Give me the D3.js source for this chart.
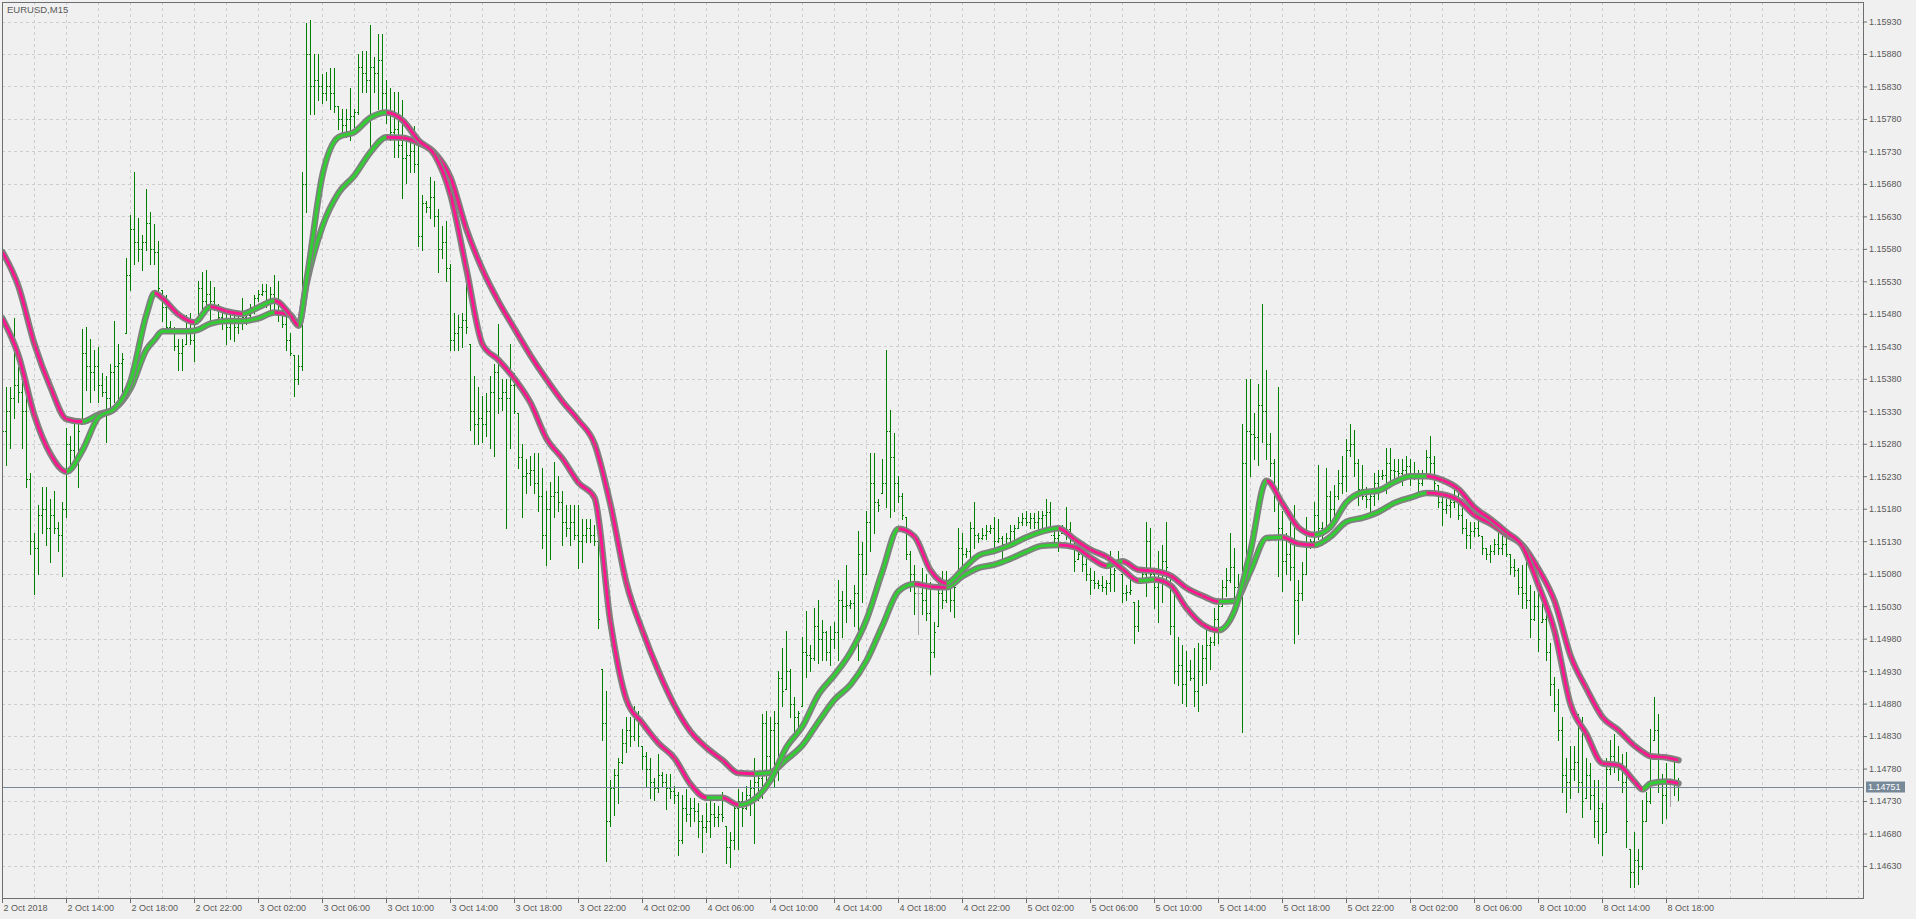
<!DOCTYPE html>
<html><head><meta charset="utf-8">
<script src="https://cdn.jsdelivr.net/npm/d3@7"></script>
<style>
html,body{margin:0;padding:0;background:#f0f0f0;overflow:hidden}
svg{display:block}
</style></head><body>
<svg id="c" width="1916" height="919"></svg>
<script>
// ---------- DATA (prices as points above 1.14000, i.e. 1389 = 1.15389) ----------
const BASE = 1.14, PT = 0.00001;
const symbolLabel = "EURUSD,M15";
const lastPrice = 1.14751;

const high = [
1389,1367,1367,1473,1398,1394,1380,1235,1142,1186,
1213,1213,1195,1208,1160,1190,1305,1292,1310,1319,
1456,1460,1442,1425,1429,1389,1385,1403,1469,1433,
1420,1566,1632,1698,1628,1601,1672,1637,1619,1592,
1517,1509,1469,1460,1442,1442,1478,1482,1469,1531,
1544,1548,1531,1522,1495,1486,1482,1486,1482,1478,
1504,1482,1495,1509,1517,1526,1526,1522,1540,1531,
1486,1478,1451,1416,1416,1698,1928,1933,1880,1880,
1849,1853,1858,1858,1800,1796,1796,1827,1796,1880,
1884,1884,1924,1875,1911,1911,1840,1827,1822,1822,
1809,1752,1747,1769,1738,1663,1654,1690,1685,1641,
1615,1623,1557,1482,1478,1482,1540,1433,1385,1367,
1354,1358,1385,1403,1464,1380,1380,1433,1389,1327,
1279,1257,1261,1266,1266,1243,1208,1221,1252,1230,
1208,1186,1186,1186,1186,1164,1164,1164,1155,1160,
934,899,762,780,797,841,859,859,877,868,
815,806,797,766,802,775,771,771,753,744,
740,749,735,735,727,709,727,731,727,722,
744,691,682,727,749,744,753,762,797,771,
864,868,859,868,930,965,992,934,890,868,
983,1023,970,1027,1040,1009,992,1000,1005,1071,
1053,1093,1040,1062,1146,1129,1177,1266,1266,1195,
1257,1425,1332,1297,1230,1204,1168,1115,1093,1067,
1089,1080,1067,1005,1076,1084,1084,1062,1076,1151,
1142,1120,1160,1190,1142,1151,1155,1155,1168,1164,
1138,1142,1155,1155,1168,1173,1177,1173,1173,1177,
1177,1195,1190,1146,1146,1155,1182,1160,1133,1133,
1120,1102,1089,1084,1071,1076,1071,1115,1089,1115,
1080,1062,1071,1036,1040,1089,1160,1151,1089,1115,
1124,1160,1080,1053,983,970,961,947,965,974,
970,1000,983,1027,1036,1071,1089,1142,1120,1080,
1310,1380,1380,1327,1372,1495,1394,1296,1257,1367,
1177,1142,1173,1186,1071,1098,1168,1133,1190,1248,
1160,1243,1208,1217,1239,1261,1288,1310,1301,1257,
1248,1213,1208,1235,1239,1239,1274,1274,1257,1257,
1257,1261,1257,1252,1239,1239,1270,1292,1261,1217,
1204,1195,1195,1213,1204,1195,1164,1160,1160,1164,
1138,1120,1124,1133,1142,1138,1138,1111,1102,1089,
1093,1102,1062,1053,1053,1036,1018,974,921,903,
859,797,815,815,864,859,797,788,762,762,
727,797,824,833,815,802,806,656,682,656,
731,744,841,890,864,771,788,766,797,766];

const low = [
1266,1248,1274,1319,1345,1274,1213,1111,1049,1080,
1142,1124,1098,1142,1115,1076,1168,1248,1248,1213,
1310,1363,1345,1363,1345,1354,1283,1327,1345,1345,
1345,1451,1517,1557,1562,1548,1579,1557,1557,1513,
1469,1456,1451,1425,1394,1394,1433,1433,1407,1469,
1486,1495,1469,1486,1469,1456,1433,1442,1438,1451,
1456,1464,1469,1482,1500,1509,1491,1486,1482,1469,
1460,1425,1416,1354,1372,1394,1637,1787,1787,1809,
1805,1809,1796,1791,1765,1752,1752,1747,1760,1787,
1822,1822,1729,1822,1796,1787,1774,1747,1721,1721,
1659,1681,1698,1698,1584,1579,1637,1628,1615,1544,
1566,1531,1425,1425,1425,1429,1451,1301,1279,1279,
1283,1292,1274,1261,1327,1332,1151,1274,1327,1243,
1168,1204,1217,1204,1177,1120,1093,1102,1168,1177,
1124,1138,1124,1133,1089,1098,1129,1129,1124,996,
824,638,691,709,727,788,806,815,824,815,
780,753,735,731,744,753,718,735,727,647,
665,700,691,700,674,651,682,674,691,691,
700,634,629,656,656,691,718,709,665,731,
735,753,775,753,762,877,903,859,833,841,
877,921,930,947,943,947,947,939,965,947,
983,1005,1027,1000,947,1036,1080,1115,1142,1177,
1204,1182,1168,1177,1190,1164,1102,1053,1018,987,
1018,1009,925,952,1000,1027,1036,1023,1014,1071,
1089,1106,1106,1120,1129,1133,1133,1142,1120,1129,
1102,1124,1129,1133,1151,1155,1155,1151,1151,1146,
1142,1146,1146,1129,1115,1142,1133,1129,1084,1102,
1084,1071,1049,1058,1058,1053,1049,1053,1053,1089,
1036,1040,1049,974,992,1071,1045,1071,1027,1005,
1036,1071,987,912,908,881,877,916,877,868,
908,912,934,970,974,1031,1045,1067,1040,1045,
837,1080,1230,1257,1248,1283,1257,1230,1177,1076,
1053,1080,1071,974,987,1040,1080,1120,1124,1133,
1124,1151,1155,1168,1195,1204,1208,1261,1230,1186,
1195,1182,1177,1186,1195,1226,1204,1213,1221,1221,
1217,1226,1217,1226,1199,1217,1230,1230,1208,1182,
1155,1173,1168,1182,1164,1142,1120,1120,1138,1138,
1111,1102,1098,1111,1111,1111,1107,1080,1076,1049,
1027,1027,983,1009,961,1005,947,894,868,824,
744,713,735,762,744,705,735,718,674,665,
647,682,771,775,762,744,660,598,598,603,
625,700,727,824,744,696,704,722,740,731];

const close = [
1300,1330,1350,1370,1360,1330,1225,1130,1120,1170,
1180,1150,1170,1150,1140,1180,1280,1270,1260,1300,
1420,1400,1390,1400,1370,1360,1350,1390,1400,1405,
1410,1540,1610,1590,1580,1590,1620,1580,1575,1520,
1490,1460,1455,1430,1420,1430,1450,1440,1460,1520,
1500,1510,1500,1490,1475,1470,1460,1470,1460,1470,
1475,1478,1490,1505,1510,1515,1500,1510,1500,1480,
1465,1440,1420,1380,1400,1680,1880,1830,1840,1830,
1820,1830,1820,1800,1780,1770,1780,1785,1790,1860,
1850,1840,1860,1850,1870,1820,1790,1760,1765,1740,
1720,1725,1730,1710,1600,1650,1645,1660,1630,1580,
1590,1550,1440,1450,1460,1470,1460,1330,1310,1320,
1310,1330,1360,1390,1350,1360,1350,1370,1330,1260,
1230,1235,1240,1220,1200,1140,1180,1200,1205,1190,
1160,1150,1160,1140,1130,1140,1150,1140,1130,1010,
850,700,750,770,790,820,840,830,860,830,
800,780,760,750,770,760,750,745,740,670,
720,710,720,715,700,690,700,710,705,710,
705,660,670,720,730,720,740,750,760,765,
850,800,840,850,920,900,930,880,860,865,
960,955,950,1000,980,990,960,980,990,1040,
1030,1032,1035,1050,1110,1080,1160,1220,1190,1185,
1220,1300,1260,1220,1200,1170,1110,1080,1050,1050,
1040,1020,960,990,1050,1040,1060,1040,1060,1120,
1110,1115,1150,1140,1135,1140,1145,1150,1130,1135,
1125,1135,1145,1150,1160,1165,1160,1165,1160,1165,
1170,1175,1140,1135,1140,1150,1148,1135,1100,1110,
1095,1080,1070,1065,1062,1060,1065,1080,1085,1095,
1050,1052,1055,1000,1030,1080,1130,1080,1060,1080,
1100,1090,1000,930,940,910,930,920,900,930,
950,970,975,1010,1030,1060,1070,1090,1060,1058,
1250,1300,1295,1290,1340,1330,1280,1250,1200,1150,
1100,1110,1090,1040,1050,1080,1125,1130,1170,1150,
1140,1200,1180,1200,1220,1230,1270,1280,1250,1210,
1200,1195,1200,1220,1230,1232,1250,1240,1238,1235,
1240,1245,1230,1235,1220,1230,1260,1250,1220,1190,
1180,1185,1190,1192,1170,1150,1140,1145,1150,1140,
1120,1110,1115,1125,1120,1125,1110,1090,1085,1060,
1050,1040,1010,1030,980,1010,960,910,880,840,
770,760,780,790,760,730,770,740,700,720,
680,780,800,790,780,760,700,620,640,630,
700,730,800,840,760,740,760,760,755,751];
const firstOpen = 1320;

// moving averages (mostly every 4 bars, a few extra turning points)
const maIndex = [0,4,8,12,16,20,24,28,32,36,38,40,44,48,52,56,60,64,68,72,74,76,80,84,88,92,96,100,
104,108,112,116,120,124,128,132,136,140,144,148,152,156,160,164,168,172,176,180,184,188,192,196,200,
204,208,212,216,220,224,228,232,236,240,244,248,252,256,260,264,268,272,276,280,284,288,292,296,300,
304,308,312,316,320,324,328,332,336,340,344,348,352,356,360,364,368,372,376,380,384,388,392,396,400,
404,408,410,412,416,419];
const fastMA = [1473,1416,1323,1264,1237,1270,1321,1334,1376,1479,1512,
1504,1479,1467,1491,1484,1480,1490,1500,1478,1462,1531,
1694,1752,1760,1782,1790,1778,1747,1725,1663,1548,
1433,1409,1380,1343,1288,1257,1220,1197,1005,886,
850,819,796,756,735,735,724,733,762,813,
845,894,924,959,1009,1084,1149,1137,1085,1065,
1086,1108,1115,1124,1136,1145,1150,1133,1117,1106,
1087,1069,1071,1062,1027,1002,993,1023,1115,1223,
1188,1151,1140,1152,1190,1205,1208,1221,1230,1230,
1224,1210,1182,1164,1144,1122,1062,992,879,833,
788,785,760,748,757,760,757];
const slowMA = [1575,1522,1433,1367,1318,1314,1325,1334,1365,1425,1440,
1453,1453,1454,1465,1469,1469,1473,1482,1478,1462,1526,
1615,1666,1693,1729,1752,1751,1743,1728,1690,1610,
1548,1499,1457,1416,1379,1345,1316,1280,1186,1065,
992,930,877,837,812,793,773,772,774,794,
816,852,886,909,946,1000,1053,1064,1060,1059,
1076,1089,1094,1103,1114,1123,1124,1121,1105,1092,
1099,1086,1084,1077,1058,1046,1037,1038,1084,1135,
1136,1126,1124,1137,1160,1166,1175,1189,1197,1204,
1202,1193,1170,1157,1140,1124,1087,1038,954,903,
859,839,815,806,799,797,793];

const priceTicks = [1.14630,1.14680,1.14730,1.14780,1.14830,1.14880,1.14930,1.14980,1.15030,1.15080,
1.15130,1.15180,1.15230,1.15280,1.15330,1.15380,1.15430,1.15480,1.15530,1.15580,
1.15630,1.15680,1.15730,1.15780,1.15830,1.15880,1.15930];
const timeTickIndex = [0,16,32,48,64,80,96,112,128,144,160,176,192,208,224,240,256,272,288,304,320,336,352,368,384,400,416];
const timeLabels = ["2 Oct 2018","2 Oct 14:00","2 Oct 18:00","2 Oct 22:00","3 Oct 02:00","3 Oct 06:00","3 Oct 10:00",
"3 Oct 14:00","3 Oct 18:00","3 Oct 22:00","4 Oct 02:00","4 Oct 06:00","4 Oct 10:00","4 Oct 14:00","4 Oct 18:00",
"4 Oct 22:00","5 Oct 02:00","5 Oct 06:00","5 Oct 10:00","5 Oct 14:00","5 Oct 18:00","5 Oct 22:00","8 Oct 02:00",
"8 Oct 06:00","8 Oct 10:00","8 Oct 14:00","8 Oct 18:00"];

// ---------- DRAWING ----------
const W = 1916, H = 919;
const PL = 2, PT0 = 2, PR = 1863, PB = 898;
const FONT = '"Liberation Sans", Arial, sans-serif';
const TXT = "#5a5a5a";
const P = v => BASE + v * PT;

const x = d3.scaleLinear().domain([0, 1]).range([2, 6]);           // bar index -> px
const y = d3.scaleLinear().domain([1.14630, 1.15930]).range([866, 21.5]);

const svg = d3.select("#c");
svg.append("rect").attr("width", W).attr("height", H).attr("fill", "#f0f0f0");
const defs = svg.append("defs");
defs.append("clipPath").attr("id", "plotClip").append("rect")
  .attr("x", PL + 1).attr("y", PT0 + 1).attr("width", PR - PL - 1).attr("height", PB - PT0 - 1);

// grid
const grid = svg.append("g").attr("shape-rendering", "crispEdges").attr("clip-path", "url(#plotClip)")
  .attr("stroke", "#cdcdcd").attr("stroke-dasharray", "3,3");
priceTicks.forEach(t => {
  const yy = Math.round(y(t)) + 0.5;
  grid.append("line").attr("x1", PL).attr("x2", PR).attr("y1", yy).attr("y2", yy);
});
for (let k = 8; x(k) < PR; k += 8) {
  const xx = x(k) + 0.5;
  grid.append("line").attr("x1", xx).attr("x2", xx).attr("y1", PT0).attr("y2", PB);
}

const plot = svg.append("g").attr("clip-path", "url(#plotClip)");

// bars
let dGreen = "", dGray = "";
for (let i = 0; i < high.length; i++) {
  const hi = high[i], lo = low[i], c = close[i];
  const prev = i === 0 ? firstOpen : close[i - 1];
  const o = Math.max(lo, Math.min(hi, prev));
  const x0 = x(i), cx = x0 + 0.5;
  const yh = Math.round(y(P(hi))), yl = Math.round(y(P(lo)));
  const yo = Math.round(y(P(o))) + 0.5, yc = Math.round(y(P(c))) + 0.5;
  const seg = `M${cx},${yh}V${yl + 1}M${x0 - 1},${yo}H${x0}M${x0 + 1},${yc}H${x0 + 2}`;
  if (o === c) dGray += seg; else dGreen += seg;
}
plot.append("path").attr("d", dGreen).attr("stroke", "#007f00").attr("stroke-width", 1)
  .attr("fill", "none").attr("shape-rendering", "crispEdges");
plot.append("path").attr("d", dGray).attr("stroke", "#a9a9a9").attr("stroke-width", 1)
  .attr("fill", "none").attr("shape-rendering", "crispEdges");

// current price line
const yLast = Math.round(y(lastPrice)) + 0.5;
plot.append("line").attr("x1", PL).attr("x2", PR).attr("y1", yLast).attr("y2", yLast)
  .attr("stroke", "#778899").attr("stroke-width", 1).attr("shape-rendering", "crispEdges");

// moving averages
const maLine = d3.line().x(d => x(d[0]) + 0.5).y(d => y(P(d[1]))).curve(d3.curveMonotoneX);
function drawMA(vals, id) {
  const pts = maIndex.map((k, j) => [k, vals[j]]);
  const cp = defs.append("clipPath").attr("id", id);
  for (let j = 0; j < pts.length - 1; j++) {
    if (pts[j + 1][1] < pts[j][1]) {
      cp.append("rect").attr("x", x(pts[j][0]) + 0.5).attr("y", 0)
        .attr("width", x(pts[j + 1][0]) - x(pts[j][0])).attr("height", H);
    }
  }
  const d = maLine(pts);
  plot.append("path").attr("d", d).attr("fill", "none").attr("stroke", "#808080")
    .attr("stroke-width", 6.5).attr("stroke-linejoin", "round").attr("stroke-linecap", "round");
  plot.append("path").attr("d", d).attr("fill", "none").attr("stroke", "#32cd32")
    .attr("stroke-width", 3).attr("stroke-linejoin", "round");
  plot.append("g").attr("clip-path", `url(#${id})`).append("path").attr("d", d).attr("fill", "none")
    .attr("stroke", "#ff1493").attr("stroke-width", 3).attr("stroke-linejoin", "round");
}
drawMA(slowMA, "fallSlow");
drawMA(fastMA, "fallFast");

// frame
svg.append("rect").attr("x", PL + 0.5).attr("y", PT0 + 0.5).attr("width", PR - PL).attr("height", PB - PT0)
  .attr("fill", "none").attr("stroke", "#6e6e6e").attr("shape-rendering", "crispEdges");

// price axis
const yAxis = d3.axisRight(y).tickValues(priceTicks).tickFormat(d3.format(".5f")).tickSize(4).tickPadding(2);
const ya = svg.append("g").attr("transform", `translate(${PR},0)`).call(yAxis);
ya.select(".domain").remove();
ya.selectAll(".tick line").attr("stroke", "#6e6e6e");
ya.selectAll(".tick text").attr("fill", TXT).attr("font-family", FONT).attr("font-size", 9);

// time axis
const xAxis = d3.axisBottom(x).tickValues(timeTickIndex).tickFormat((d, i) => timeLabels[i]).tickSize(5).tickPadding(2);
const xa = svg.append("g").attr("transform", `translate(0,${PB})`).call(xAxis);
xa.select(".domain").remove();
xa.selectAll(".tick line").attr("stroke", "#6e6e6e");
xa.selectAll(".tick text").attr("fill", TXT).attr("font-family", FONT).attr("font-size", 9)
  .attr("text-anchor", "start").attr("dx", 1);

// last price label
svg.append("rect").attr("x", 1866).attr("y", yLast - 6).attr("width", 39).attr("height", 11).attr("fill", "#778899");
svg.append("text").attr("x", 1868).attr("y", yLast).attr("dy", "0.33em").attr("fill", "#ffffff")
  .attr("font-family", FONT).attr("font-size", 9).text(d3.format(".5f")(lastPrice));

// symbol label
svg.append("text").attr("x", 7).attr("y", 13).attr("fill", TXT).attr("font-family", FONT)
  .attr("font-size", 9.5).text(symbolLabel);
</script>
</body></html>
